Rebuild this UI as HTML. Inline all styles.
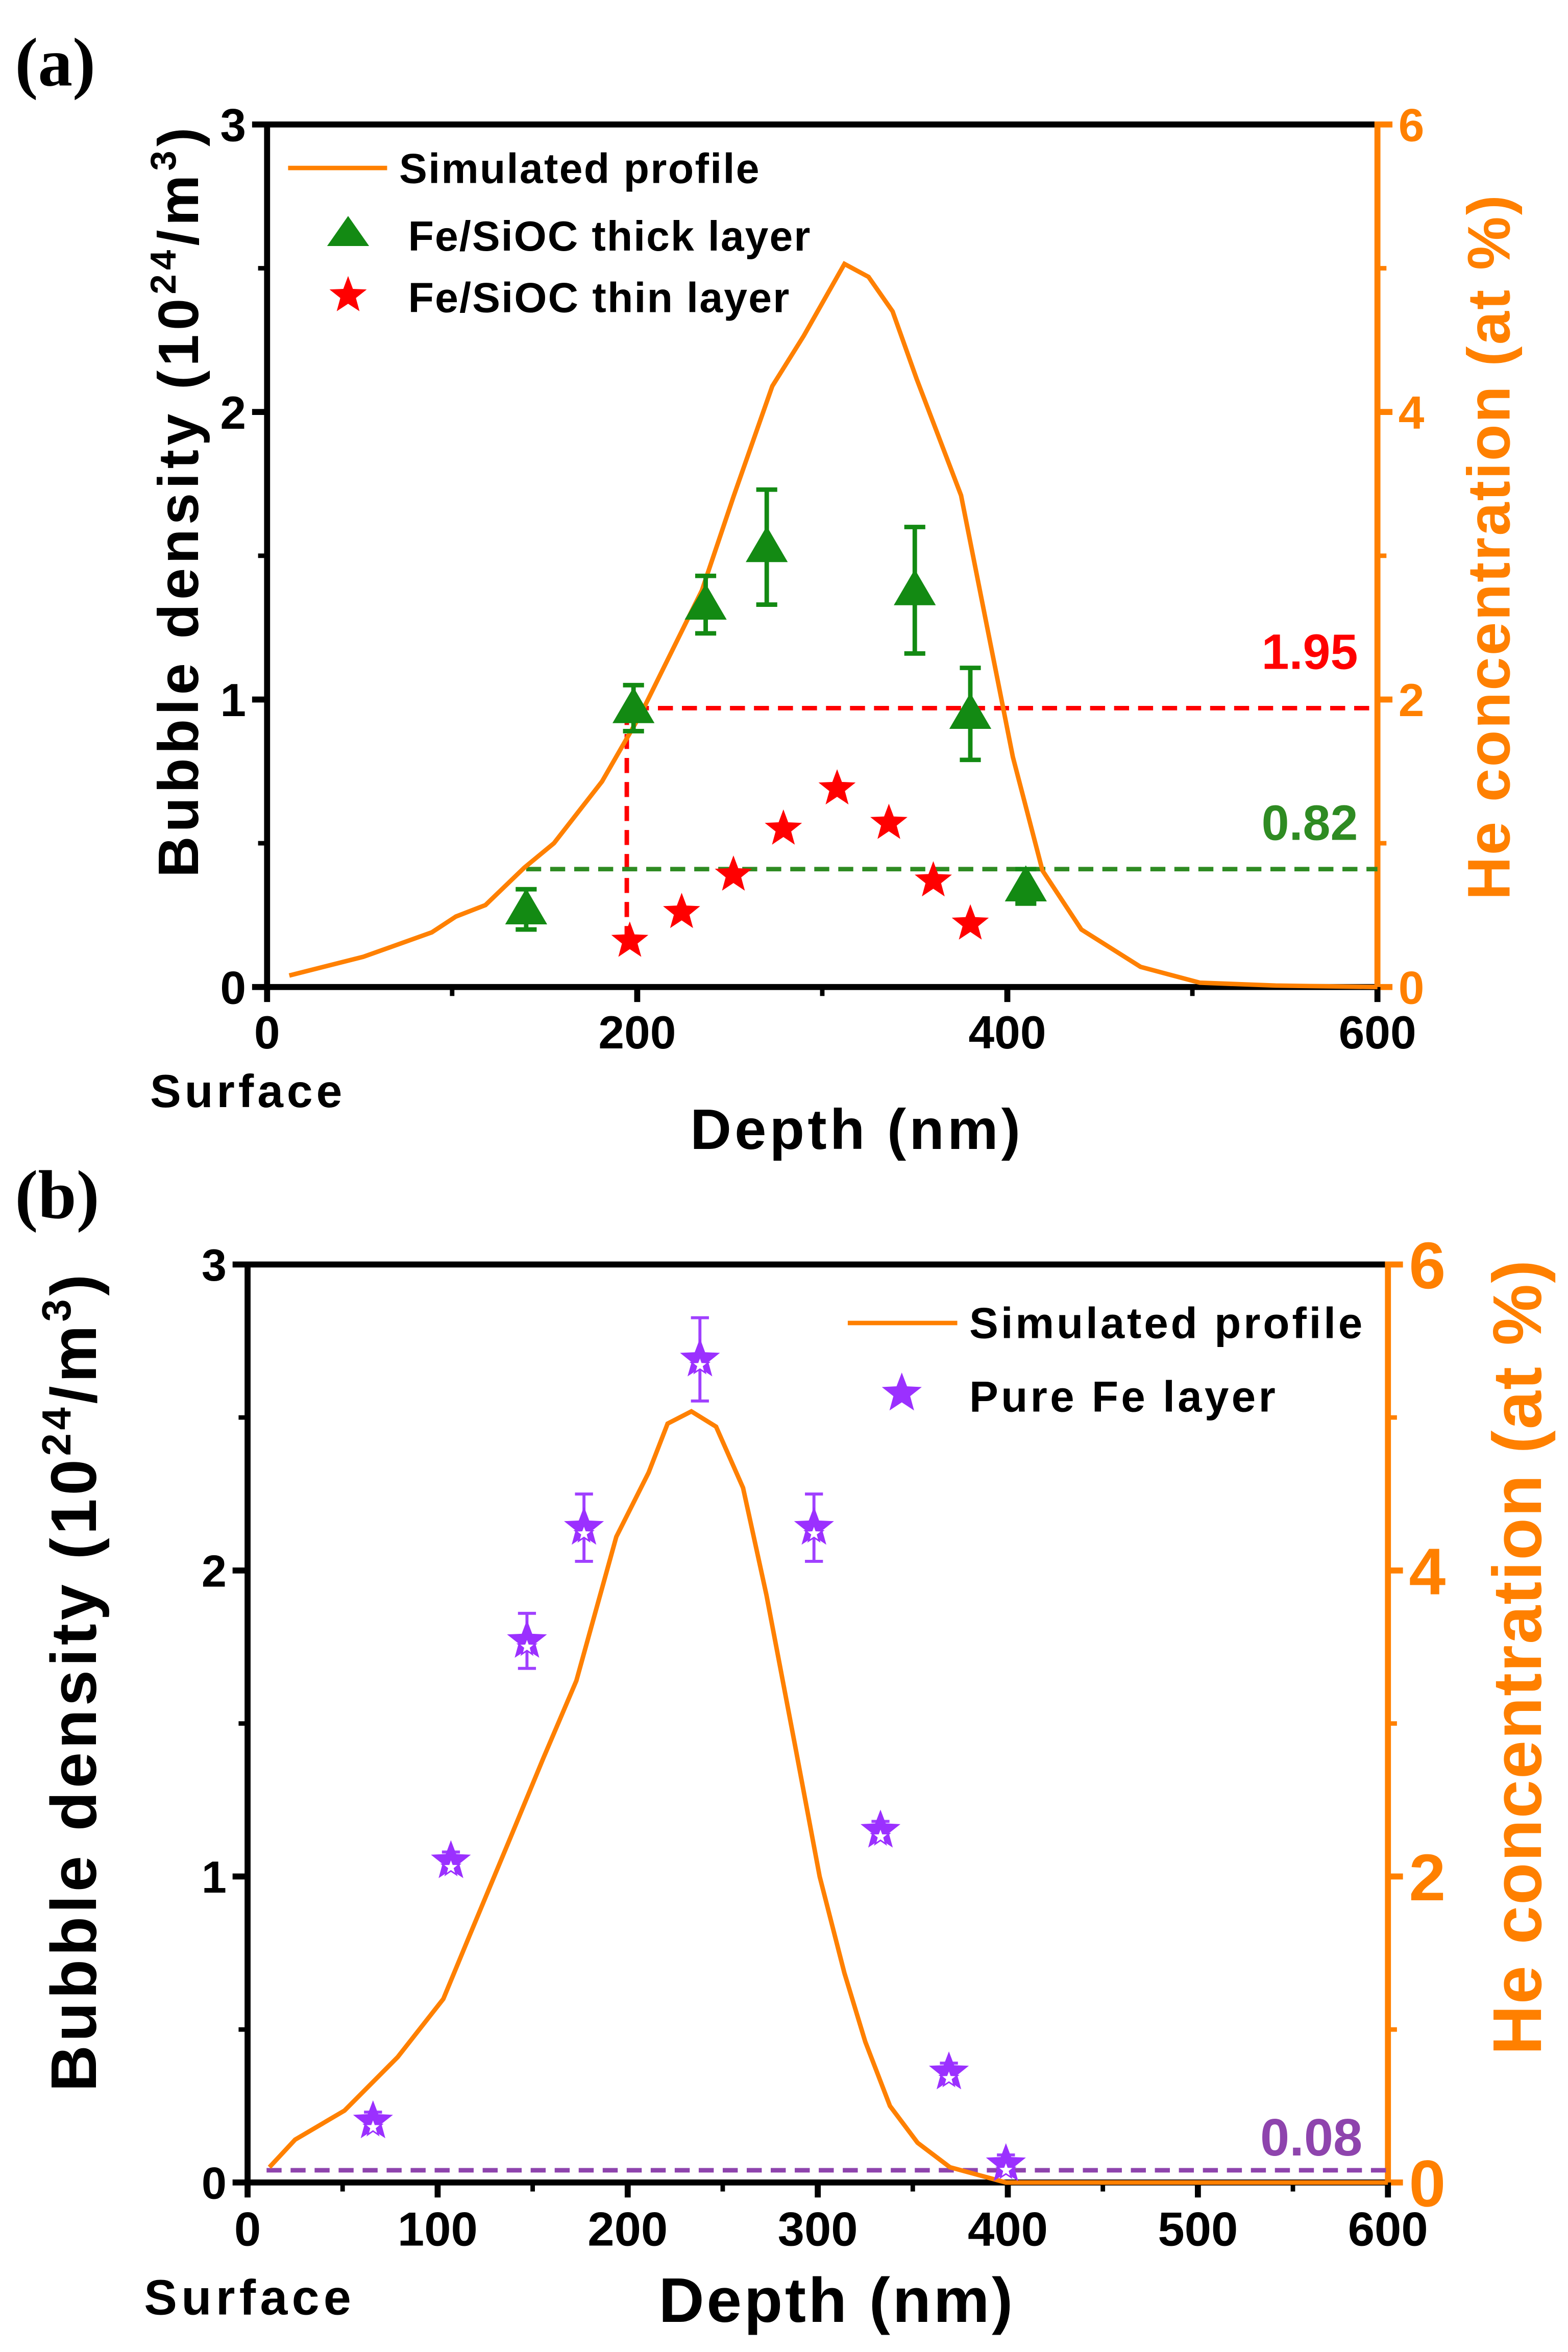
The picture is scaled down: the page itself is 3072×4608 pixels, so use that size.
<!DOCTYPE html>
<html><head><meta charset="utf-8"><style>
html,body{margin:0;padding:0;background:#fff;}
svg{display:block;}
text{font-family:"Liberation Sans",Arial,sans-serif;font-weight:bold;}
</style></head><body>
<svg id="fig" width="3072" height="4608" viewBox="0 0 1045 1568" preserveAspectRatio="none" xmlns="http://www.w3.org/2000/svg">
<g id="pa"></g>
<g id="pb"></g>
</svg>
<script>
// Panel A data
const aProfileDepth=[12,52,89,102,118,139,155,181,202,235,252,273,290,312,325,338,351,375,391,403,419,440,472,504,545,600];
const aProfileHe=[0.08,0.21,0.38,0.49,0.57,0.83,1.0,1.43,1.9,2.76,3.41,4.18,4.53,5.03,4.94,4.7,4.23,3.42,2.38,1.6,0.81,0.4,0.14,0.03,0.01,0];
const aThickDepth=[140,198,237,270,350,380,410];
const aThickVal=[0.27,0.97,1.33,1.53,1.38,0.95,0.35];
const aThickErr=[0.07,0.08,0.1,0.2,0.22,0.16,0.06];
const aThinDepth=[196,224,252,279,308,336,360,380];
const aThinVal=[0.16,0.26,0.39,0.55,0.69,0.57,0.37,0.22];
const aRedLevel=0.97, aGreenLevel=0.41;
const aXTicks=[0,200,400,600], aYTicks=[0,1,2,3], aRTicks=[0,2,4,6];
// Panel B data
const bProfileDepth=[11.5,25,51,79,103,117,138.5,155.5,173,194,211,221,233.5,246.5,260.7,273,288,301,314,325,338,352.5,369.5,399,600];
const bProfileHe=[0.1,0.28,0.47,0.82,1.2,1.62,2.26,2.77,3.28,4.22,4.64,4.96,5.04,4.94,4.54,3.84,2.86,2.0,1.37,0.92,0.5,0.26,0.1,0,0];
const bFeDepth=[66,107,147,177,238,298,333,369,399];
const bFeVal=[0.2,1.05,1.77,2.14,2.69,2.14,1.15,0.36,0.06];
const bFeErr=[0.03,0.03,0.09,0.11,0.136,0.11,0.03,0.03,0.03];
const bLevel=0.04;
const bXTicks=[0,100,200,300,400,500,600], bYTicks=[0,1,2,3], bRTicks=[0,2,4,6];

const NS="http://www.w3.org/2000/svg";
function mk(parent,tag,attrs,txt){const e=document.createElementNS(NS,tag);for(const k in attrs)e.setAttribute(k,attrs[k]);if(txt!==undefined)e.textContent=txt;parent.appendChild(e);return e;}
function starPts(cx,cy,r){let p=[];for(let i=0;i<10;i++){const a=-Math.PI/2+i*Math.PI/5;const rr=i%2?r*0.42:r;p.push((cx+rr*Math.cos(a)).toFixed(1)+","+(cy+rr*Math.sin(a)).toFixed(1));}return p.join(" ");}
const OR="#ff8000";

function panel(g,o){
  const X=d=>o.L+(d-o.x0)/(o.x1-o.x0)*(o.R-o.L);
  const Y=v=>o.B-v/3*(o.B-o.T);
  const YR=h=>o.B-h/6*(o.B-o.T);
  let e;
  e=mk(g,'line',{x1:o.L,y1:o.T,x2:o.R,y2:o.T,stroke:'#000','stroke-width':4});
  
  e=mk(g,'line',{x1:o.L,y1:o.T-2,x2:o.L,y2:o.B+2,stroke:'#000','stroke-width':4});
  
  e=mk(g,'line',{x1:o.L,y1:o.B,x2:o.R,y2:o.B,stroke:'#000','stroke-width':4});
  
  e=mk(g,'line',{x1:o.R,y1:o.T-2,x2:o.R,y2:o.B+2,stroke:OR,'stroke-width':4});
  
  for(let i=0;i<o.yTicks.length;i++){const v=o.yTicks[i];
    mk(g,'line',{x1:o.L-10,y1:Y(v),x2:o.L,y2:Y(v),stroke:'#000','stroke-width':4});
    if(i<o.yTicks.length-1)mk(g,'line',{x1:o.L-6,y1:Y(v+0.5),x2:o.L,y2:Y(v+0.5),stroke:'#000','stroke-width':3});
    e=mk(g,'text',{x:o.L-14,y:Y(v)+o.fs*0.36,'font-size':o.fs,'text-anchor':'end',fill:'#000'},String(v));
    }
  for(let i=0;i<o.rTicks.length;i++){const h=o.rTicks[i];
    mk(g,'line',{x1:o.R,y1:YR(h),x2:o.R+10,y2:YR(h),stroke:OR,'stroke-width':4});
    if(i<o.rTicks.length-1)mk(g,'line',{x1:o.R,y1:YR(h+1),x2:o.R+6,y2:YR(h+1),stroke:OR,'stroke-width':3});
    e=mk(g,'text',{x:o.R+14,y:YR(h)+o.rfs*0.36,'font-size':o.rfs,fill:OR},String(h));
    }
  const xt=o.xTicks;
  for(let i=0;i<xt.length;i++){const d=xt[i];
    mk(g,'line',{x1:X(d),y1:o.B,x2:X(d),y2:o.B+10,stroke:'#000','stroke-width':4});
    if(i<xt.length-1)mk(g,'line',{x1:X((d+xt[i+1])/2),y1:o.B,x2:X((d+xt[i+1])/2),y2:o.B+6,stroke:'#000','stroke-width':3});
    e=mk(g,'text',{x:X(d),y:o.B+o.xfs+10,'font-size':o.xfs,'text-anchor':'middle',fill:'#000'},String(d));
    }
  return {X,Y,YR};
}

// ---------- Panel A ----------
(function(){
const g=document.getElementById('pa');
const o={L:178,R:918,T:83,B:658,x0:0,x1:600,yTicks:aYTicks,rTicks:aRTicks,xTicks:aXTicks,fs:31,rfs:31,xfs:31};
const {X,Y,YR}=panel(g,o);
let e;
e=mk(g,'polyline',{points:`${X(aThinDepth[0])-2},${Y(aThinVal[0])} ${X(aThinDepth[0])-2},${Y(aRedLevel)} ${o.R},${Y(aRedLevel)}`,fill:'none',stroke:'#ff0000','stroke-width':3,'stroke-dasharray':'10,6'});

e=mk(g,'line',{x1:X(aThickDepth[0]),y1:Y(aGreenLevel),x2:o.R,y2:Y(aGreenLevel),stroke:'#2e8b22','stroke-width':3,'stroke-dasharray':'10,6'});

e=mk(g,'polyline',{points:aProfileDepth.map((d,i)=>X(d)+','+YR(aProfileHe[i])).join(' '),fill:'none',stroke:OR,'stroke-width':3});

for(let i=0;i<aThickDepth.length;i++){const x=X(aThickDepth[i]),y=Y(aThickVal[i]),dy=aThickErr[i]/3*(o.B-o.T);
  mk(g,'path',{d:`M${x},${y-dy}V${y+dy}M${x-7},${y-dy}H${x+7}M${x-7},${y+dy}H${x+7}`,stroke:'#138a13','stroke-width':3,fill:'none'});
  e=mk(g,'polygon',{points:`${x},${y-14} ${x-14},${y+10} ${x+14},${y+10}`,fill:'#138a13'});
  }
for(let i=0;i<aThinDepth.length;i++){
  e=mk(g,'polygon',{points:starPts(X(aThinDepth[i]),Y(aThinVal[i]),13),fill:'#ff0000'});
  }
e=mk(g,'text',{x:905,y:446,'font-size':33,'text-anchor':'end',fill:'#ff0000'},'1.95');

e=mk(g,'text',{x:905,y:560,'font-size':33,'text-anchor':'end',fill:'#2e8b22'},'0.82');

e=mk(g,'line',{x1:192,y1:112,x2:258,y2:112,stroke:OR,'stroke-width':3});

e=mk(g,'text',{x:266,y:122,'font-size':28,fill:'#000',textLength:240},'Simulated profile');

mk(g,'polygon',{points:'232,144 218,164 246,164',fill:'#138a13'});
e=mk(g,'text',{x:272,y:167,'font-size':28,fill:'#000',textLength:268},'Fe/SiOC thick layer');

mk(g,'polygon',{points:starPts(232,197,13),fill:'#ff0000'});
e=mk(g,'text',{x:272,y:208,'font-size':28,fill:'#000',textLength:254},'Fe/SiOC thin layer');

e=mk(g,'text',{x:10,y:57,'font-size':46,fill:'#000',style:'font-family:"Liberation Serif",serif'},'(a)');

e=mk(g,'text',{transform:'translate(132,335) rotate(-90)','font-size':38,'text-anchor':'middle',fill:'#000',textLength:500});
e.innerHTML='Bubble density (10<tspan font-size="24" dy="-15">24</tspan><tspan dy="15">/m</tspan><tspan font-size="24" dy="-15">3</tspan><tspan dy="15">)</tspan>';

e=mk(g,'text',{transform:'translate(1006,365) rotate(-90)','font-size':40,'text-anchor':'middle',fill:OR,textLength:470},'He concentration (at %)');

e=mk(g,'text',{x:570,y:766,'font-size':38,'text-anchor':'middle',fill:'#000',textLength:220},'Depth (nm)');

e=mk(g,'text',{x:164,y:738,'font-size':31,'text-anchor':'middle',fill:'#000',textLength:128},'Surface');

})();

// ---------- Panel B ----------
(function(){
const g=document.getElementById('pb');
const o={L:165,R:925,T:843,B:1455,x0:0,x1:600,yTicks:bYTicks,rTicks:bRTicks,xTicks:bXTicks,fs:30,rfs:44,xfs:32};
const {X,Y,YR}=panel(g,o);
let e;
e=mk(g,'line',{x1:X(10),y1:Y(bLevel),x2:o.R,y2:Y(bLevel),stroke:'#8e44ad','stroke-width':3,'stroke-dasharray':'10,6'});

e=mk(g,'polyline',{points:bProfileDepth.map((d,i)=>X(d)+','+YR(bProfileHe[i])).join(' '),fill:'none',stroke:OR,'stroke-width':3});

for(let i=0;i<bFeDepth.length;i++){const x=X(bFeDepth[i]),y=Y(bFeVal[i]),dy=bFeErr[i]/3*(o.B-o.T);
  mk(g,'path',{d:`M${x},${y-dy}V${y+dy}M${x-6},${y-dy}H${x+6}M${x-6},${y+dy}H${x+6}`,stroke:'#a040ff','stroke-width':2,fill:'none'});
  e=mk(g,'polygon',{points:starPts(x,y,14),fill:'#9b30ff'});
  
  mk(g,'polygon',{points:starPts(x,y+4,6),fill:'#fff',stroke:'#9b30ff','stroke-width':1});}
e=mk(g,'text',{x:908,y:1437,'font-size':35,'text-anchor':'end',fill:'#8e44ad'},'0.08');

e=mk(g,'line',{x1:565,y1:882,x2:638,y2:882,stroke:OR,'stroke-width':3});

e=mk(g,'text',{x:646,y:892,'font-size':29,fill:'#000',textLength:262},'Simulated profile');

mk(g,'polygon',{points:starPts(601,929,14),fill:'#9b30ff'});
e=mk(g,'text',{x:646,y:941,'font-size':29,fill:'#000',textLength:204},'Pure Fe layer');

e=mk(g,'text',{x:10,y:812,'font-size':46,fill:'#000',style:'font-family:"Liberation Serif",serif'},'(b)');

e=mk(g,'text',{transform:'translate(64,1122) rotate(-90)','font-size':43,'text-anchor':'middle',fill:'#000',textLength:545});
e.innerHTML='Bubble density (10<tspan font-size="27" dy="-17">24</tspan><tspan dy="17">/m</tspan><tspan font-size="27" dy="-17">3</tspan><tspan dy="17">)</tspan>';

e=mk(g,'text',{transform:'translate(1027,1105) rotate(-90)','font-size':46,'text-anchor':'middle',fill:OR,textLength:530},'He concentration (at %)');

e=mk(g,'text',{x:557,y:1548,'font-size':42,'text-anchor':'middle',fill:'#000',textLength:236},'Depth (nm)');

e=mk(g,'text',{x:165,y:1543,'font-size':33,'text-anchor':'middle',fill:'#000',textLength:138},'Surface');

})();
</script>
</body></html>
